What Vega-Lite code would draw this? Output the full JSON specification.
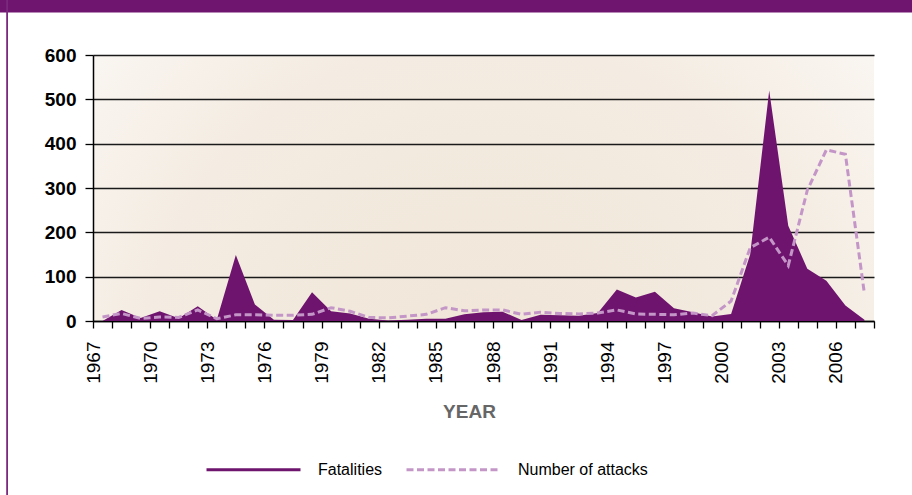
{
  "$schema": "https://vega.github.io/schema/vega-lite/v6.json",
  "width": 781,
  "height": 266,
  "autosize": "none",
  "padding": {"left": 93, "top": 55, "right": 38, "bottom": 174},
  "background": "#FFFFFF",
  "view": {
    "stroke": null,
    "fill": {
      "gradient": "radial",
      "x1": 0.5, "y1": 0.75, "r1": 0,
      "x2": 0.5, "y2": 0.75, "r2": 0.8,
      "stops": [
        {"offset": 0, "color": "#F0E5D7"},
        {"offset": 0.55, "color": "#F4ECE2"},
        {"offset": 1, "color": "#FDFCFB"}
      ]
    }
  },
  "data": {
    "values": [
      {"year": 1967, "series": "Fatalities", "value": 0},
      {"year": 1968, "series": "Fatalities", "value": 25},
      {"year": 1969, "series": "Fatalities", "value": 7},
      {"year": 1970, "series": "Fatalities", "value": 22},
      {"year": 1971, "series": "Fatalities", "value": 6},
      {"year": 1972, "series": "Fatalities", "value": 33},
      {"year": 1973, "series": "Fatalities", "value": 3},
      {"year": 1974, "series": "Fatalities", "value": 149},
      {"year": 1975, "series": "Fatalities", "value": 37},
      {"year": 1976, "series": "Fatalities", "value": 3},
      {"year": 1977, "series": "Fatalities", "value": 2},
      {"year": 1978, "series": "Fatalities", "value": 65},
      {"year": 1979, "series": "Fatalities", "value": 22},
      {"year": 1980, "series": "Fatalities", "value": 17},
      {"year": 1981, "series": "Fatalities", "value": 5},
      {"year": 1982, "series": "Fatalities", "value": 1},
      {"year": 1983, "series": "Fatalities", "value": 3},
      {"year": 1984, "series": "Fatalities", "value": 5},
      {"year": 1985, "series": "Fatalities", "value": 5},
      {"year": 1986, "series": "Fatalities", "value": 15},
      {"year": 1987, "series": "Fatalities", "value": 20},
      {"year": 1988, "series": "Fatalities", "value": 21},
      {"year": 1989, "series": "Fatalities", "value": 2},
      {"year": 1990, "series": "Fatalities", "value": 14},
      {"year": 1991, "series": "Fatalities", "value": 13},
      {"year": 1992, "series": "Fatalities", "value": 12},
      {"year": 1993, "series": "Fatalities", "value": 18},
      {"year": 1994, "series": "Fatalities", "value": 71},
      {"year": 1995, "series": "Fatalities", "value": 53},
      {"year": 1996, "series": "Fatalities", "value": 66},
      {"year": 1997, "series": "Fatalities", "value": 29},
      {"year": 1998, "series": "Fatalities", "value": 20},
      {"year": 1999, "series": "Fatalities", "value": 10},
      {"year": 2000, "series": "Fatalities", "value": 16},
      {"year": 2001, "series": "Fatalities", "value": 150},
      {"year": 2002, "series": "Fatalities", "value": 520},
      {"year": 2003, "series": "Fatalities", "value": 215},
      {"year": 2004, "series": "Fatalities", "value": 118},
      {"year": 2005, "series": "Fatalities", "value": 91},
      {"year": 2006, "series": "Fatalities", "value": 35},
      {"year": 2007, "series": "Fatalities", "value": 3},
      {"year": 1967, "series": "Number of attacks", "value": 9},
      {"year": 1968, "series": "Number of attacks", "value": 17},
      {"year": 1969, "series": "Number of attacks", "value": 6},
      {"year": 1970, "series": "Number of attacks", "value": 9},
      {"year": 1971, "series": "Number of attacks", "value": 8},
      {"year": 1972, "series": "Number of attacks", "value": 25},
      {"year": 1973, "series": "Number of attacks", "value": 5},
      {"year": 1974, "series": "Number of attacks", "value": 14},
      {"year": 1975, "series": "Number of attacks", "value": 14},
      {"year": 1976, "series": "Number of attacks", "value": 13},
      {"year": 1977, "series": "Number of attacks", "value": 13},
      {"year": 1978, "series": "Number of attacks", "value": 15},
      {"year": 1979, "series": "Number of attacks", "value": 30},
      {"year": 1980, "series": "Number of attacks", "value": 22},
      {"year": 1981, "series": "Number of attacks", "value": 8},
      {"year": 1982, "series": "Number of attacks", "value": 7},
      {"year": 1983, "series": "Number of attacks", "value": 11},
      {"year": 1984, "series": "Number of attacks", "value": 15},
      {"year": 1985, "series": "Number of attacks", "value": 30},
      {"year": 1986, "series": "Number of attacks", "value": 23},
      {"year": 1987, "series": "Number of attacks", "value": 25},
      {"year": 1988, "series": "Number of attacks", "value": 25},
      {"year": 1989, "series": "Number of attacks", "value": 15},
      {"year": 1990, "series": "Number of attacks", "value": 20},
      {"year": 1991, "series": "Number of attacks", "value": 17},
      {"year": 1992, "series": "Number of attacks", "value": 16},
      {"year": 1993, "series": "Number of attacks", "value": 18},
      {"year": 1994, "series": "Number of attacks", "value": 25},
      {"year": 1995, "series": "Number of attacks", "value": 16},
      {"year": 1996, "series": "Number of attacks", "value": 15},
      {"year": 1997, "series": "Number of attacks", "value": 14},
      {"year": 1998, "series": "Number of attacks", "value": 18},
      {"year": 1999, "series": "Number of attacks", "value": 12},
      {"year": 2000, "series": "Number of attacks", "value": 45},
      {"year": 2001, "series": "Number of attacks", "value": 165},
      {"year": 2002, "series": "Number of attacks", "value": 189},
      {"year": 2003, "series": "Number of attacks", "value": 125},
      {"year": 2004, "series": "Number of attacks", "value": 295},
      {"year": 2005, "series": "Number of attacks", "value": 386},
      {"year": 2006, "series": "Number of attacks", "value": 376},
      {"year": 2007, "series": "Number of attacks", "value": 61}
    ]
  },
  "layer": [
    {
      "transform": [{"filter": "datum.series === 'Fatalities'"}],
      "mark": {"type": "area", "xOffset": 9.5},
      "encoding": {
        "x": {
          "field": "year",
          "type": "quantitative",
          "scale": {"domain": [1967, 2008], "nice": false, "zero": false},
          "axis": {
            "values": [1967,1968,1969,1970,1971,1972,1973,1974,1975,1976,1977,1978,1979,1980,1981,1982,1983,1984,1985,1986,1987,1988,1989,1990,1991,1992,1993,1994,1995,1996,1997,1998,1999,2000,2001,2002,2003,2004,2005,2006,2007,2008],
            "format": "d",
            "labelExpr": "(datum.value - 1967) % 3 === 0 ? datum.label : ''",
            "labelAngle": 270,
            "labelAlign": "right",
            "labelBaseline": "middle",
            "labelFont": "Liberation Sans, Arial, sans-serif",
            "labelFontSize": 19,
            "labelColor": "#000000",
            "labelPadding": 13,
            "labelOverlap": false,
            "labelFlush": false,
            "labelBound": false,
            "tickColor": "#000000",
            "tickSize": 7,
            "tickWidth": 1.3,
            "domainColor": "#000000",
            "domainWidth": 1.5,
            "grid": false,
            "title": "YEAR",
            "titleFont": "Liberation Sans, Arial, sans-serif",
            "titleFontSize": 19,
            "titleFontWeight": "bold",
            "titleColor": "#666666",
            "titleX": 376,
            "titleY": 96,
            "titleAlign": "center",
            "titleBaseline": "alphabetic"
          }
        },
        "y": {
          "field": "value",
          "type": "quantitative",
          "scale": {"domain": [0, 600], "nice": false},
          "axis": {
            "values": [0, 100, 200, 300, 400, 500, 600],
            "title": null,
            "grid": true,
            "gridColor": "#1A1A1A",
            "gridWidth": 1.3,
            "labelFont": "Liberation Sans, Arial, sans-serif",
            "labelFontSize": 19,
            "labelFontWeight": "bold",
            "labelColor": "#000000",
            "labelPadding": 9,
            "tickColor": "#000000",
            "tickSize": 8,
            "tickWidth": 1.3,
            "domainColor": "#000000",
            "domainWidth": 1.5
          }
        },
        "color": {
          "field": "series",
          "type": "nominal",
          "scale": {"domain": ["Fatalities", "Number of attacks"], "range": ["#6E146E", "#C496C8"]},
          "legend": {
            "title": null,
            "orient": "none",
            "legendX": 112,
            "legendY": 366,
            "direction": "horizontal",
            "symbolType": "stroke",
            "symbolSize": 8836,
            "symbolStrokeWidth": 3,
            "labelFont": "Liberation Sans, Arial, sans-serif",
            "labelFontSize": 16,
            "labelColor": "#000000",
            "labelOffset": 16,
            "columnPadding": 17
          }
        }
      }
    },
    {
      "transform": [{"filter": "datum.series === 'Number of attacks'"}],
      "mark": {"type": "line", "xOffset": 9.5, "strokeWidth": 3},
      "encoding": {
        "x": {
          "field": "year",
          "type": "quantitative",
          "axis": {
            "orient": "top",
            "values": [1987.5],
            "offset": 43,
            "domain": false,
            "labels": false,
            "grid": false,
            "title": null,
            "ticks": true,
            "tickSize": 60,
            "tickWidth": 1100,
            "tickColor": "#6F1570",
            "tickCap": "butt"
          }
        },
        "y": {
          "field": "value",
          "type": "quantitative",
          "axis": {
            "orient": "left",
            "values": [300],
            "offset": 85.5,
            "domain": false,
            "labels": false,
            "grid": false,
            "title": null,
            "ticks": true,
            "tickSize": 1.8,
            "tickWidth": 800,
            "tickColor": "#7A2A7B",
            "tickCap": "butt"
          }
        },
        "color": {
          "field": "series",
          "type": "nominal",
          "scale": {"domain": ["Fatalities", "Number of attacks"], "range": ["#6E146E", "#C496C8"]},
          "legend": {
            "title": null,
            "orient": "none",
            "legendX": 112,
            "legendY": 366,
            "direction": "horizontal",
            "symbolType": "stroke",
            "symbolSize": 8836,
            "symbolStrokeWidth": 3,
            "labelFont": "Liberation Sans, Arial, sans-serif",
            "labelFontSize": 16,
            "labelColor": "#000000",
            "labelOffset": 16,
            "columnPadding": 17
          }
        },
        "strokeDash": {
          "field": "series",
          "type": "nominal",
          "scale": {"domain": ["Fatalities", "Number of attacks"], "range": [[1, 0], [7, 3.5]]},
          "legend": {
            "title": null,
            "orient": "none",
            "legendX": 112,
            "legendY": 366,
            "direction": "horizontal",
            "symbolType": "stroke",
            "symbolSize": 8836,
            "symbolStrokeWidth": 3,
            "labelFont": "Liberation Sans, Arial, sans-serif",
            "labelFontSize": 16,
            "labelColor": "#000000",
            "labelOffset": 16,
            "columnPadding": 17
          }
        }
      }
    }
  ],
  "resolve": {"axis": {"x": "independent", "y": "independent"}}
}
